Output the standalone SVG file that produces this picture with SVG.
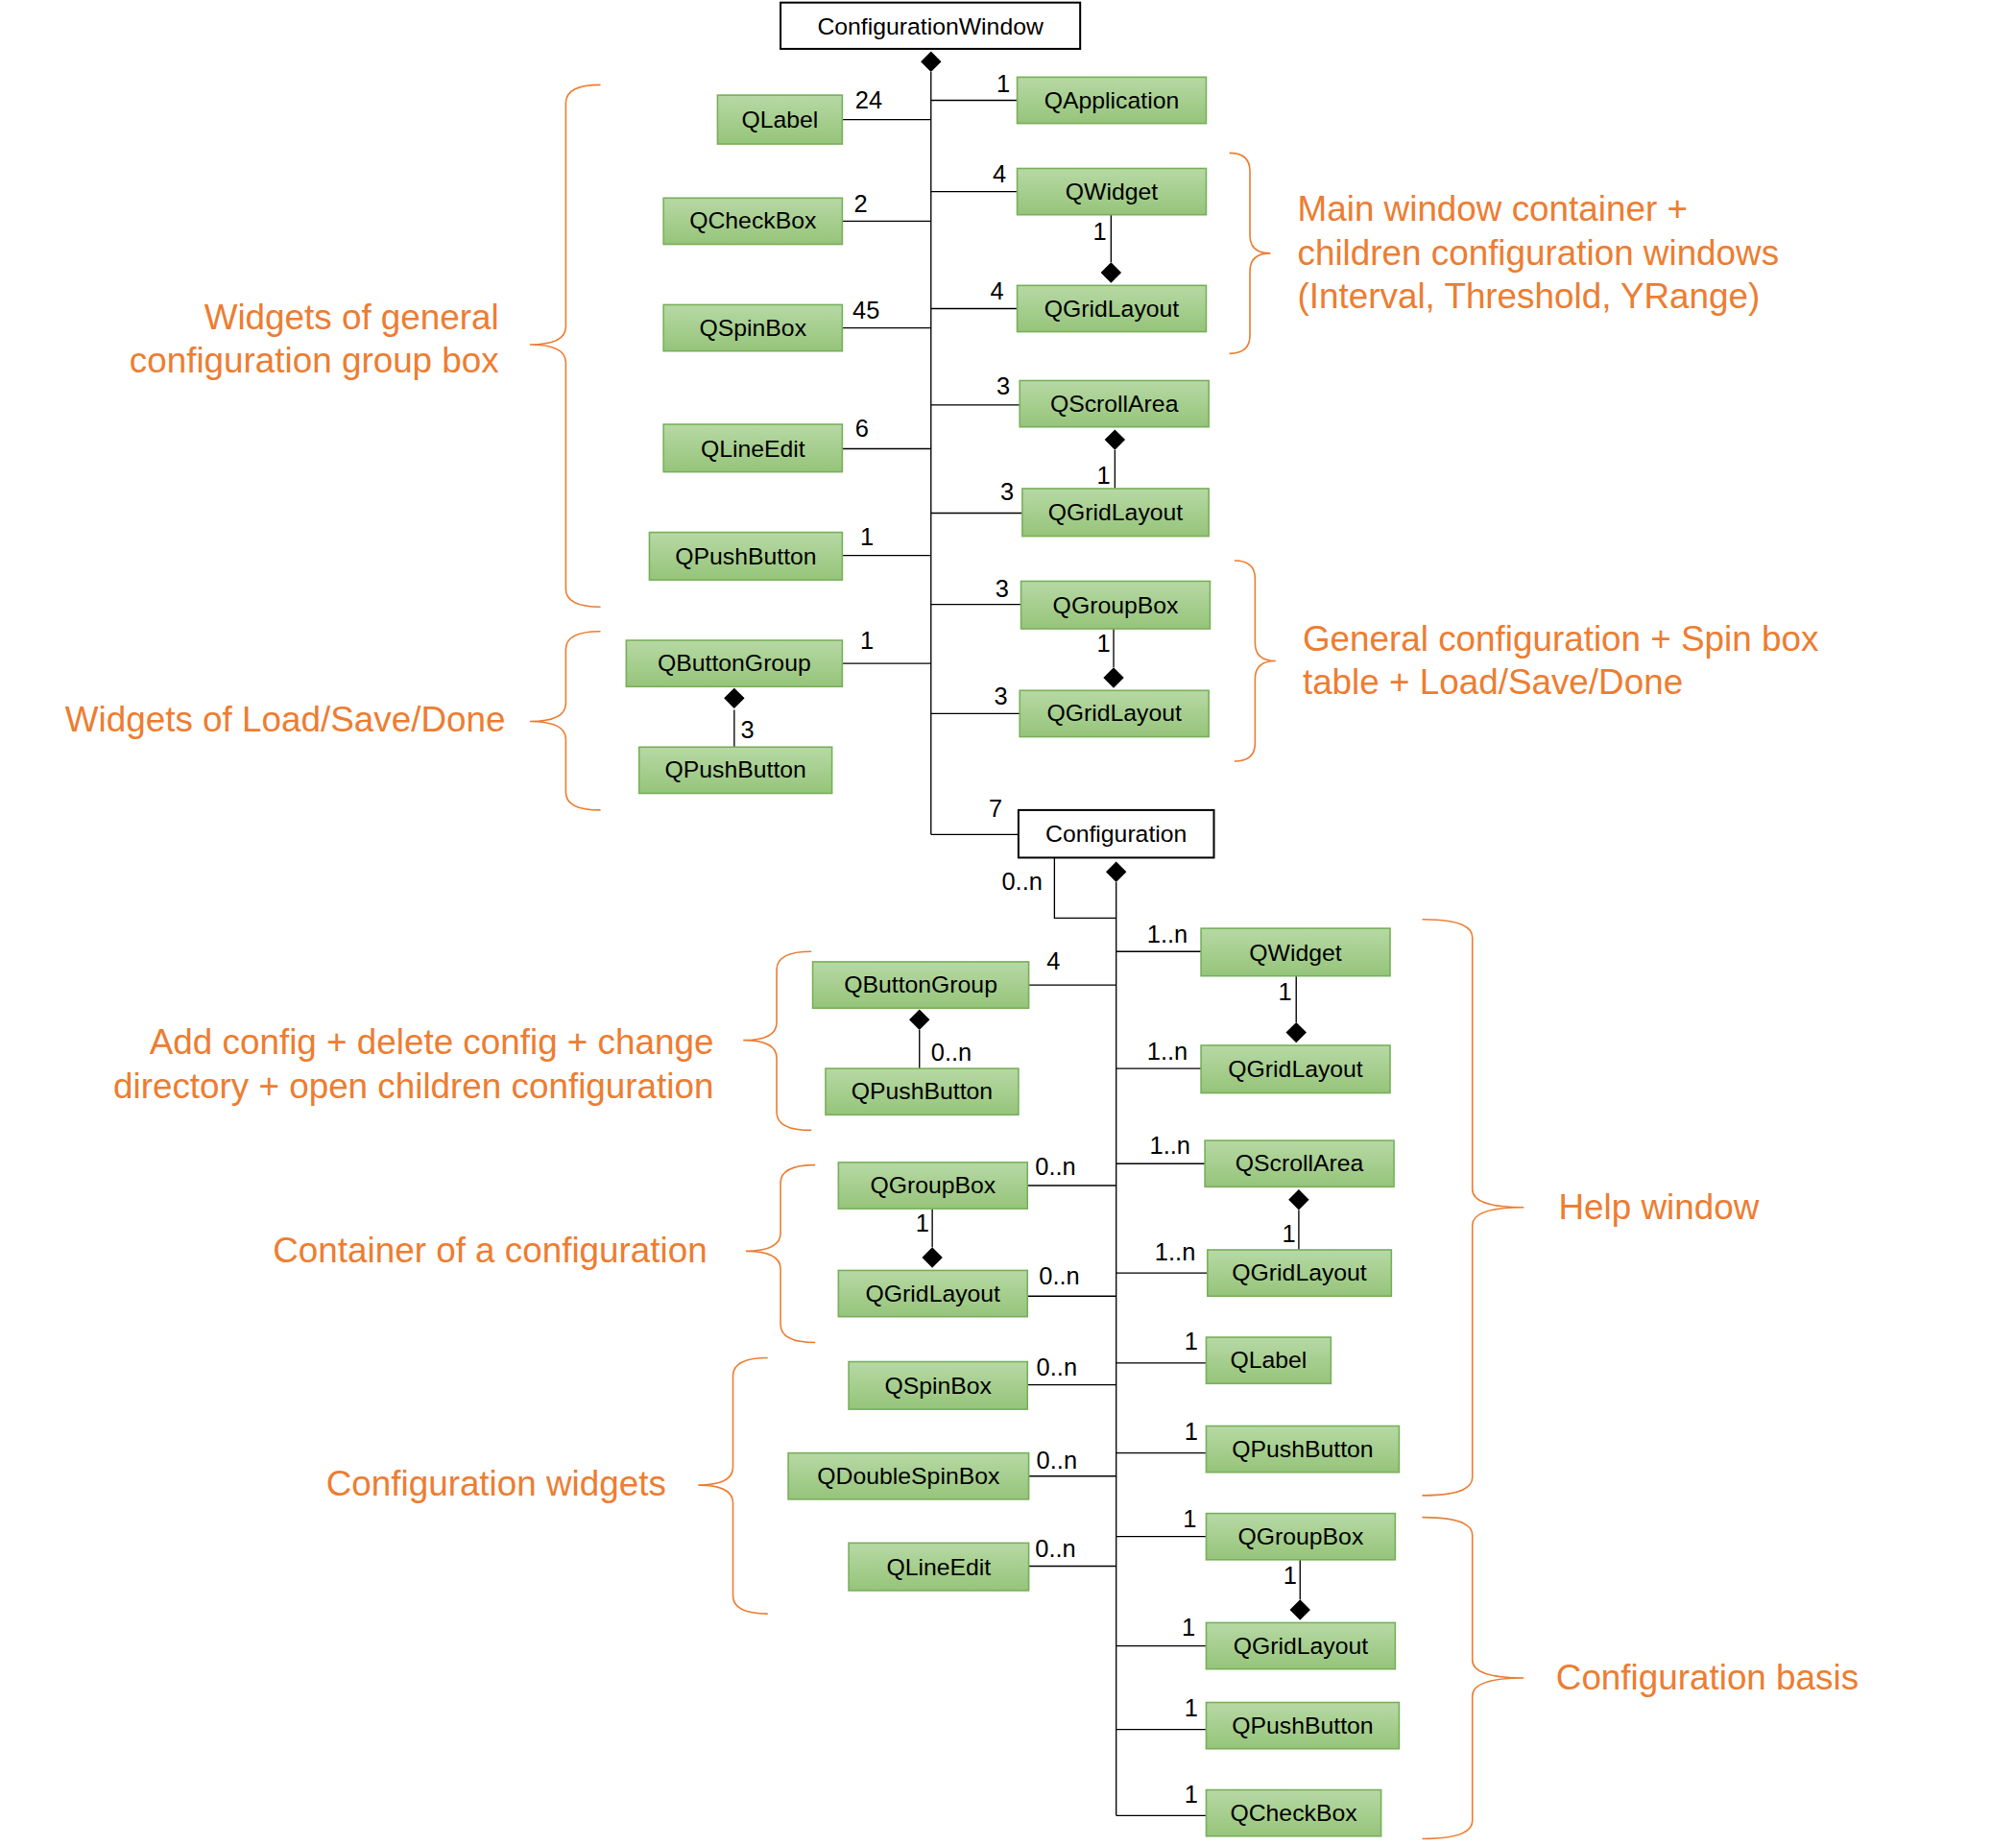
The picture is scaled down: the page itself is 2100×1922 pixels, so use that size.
<svg xmlns="http://www.w3.org/2000/svg" width="2100" height="1922" viewBox="0 0 2100 1922">
<defs>
<linearGradient id="g" x1="0" y1="0" x2="0" y2="1"><stop offset="0" stop-color="#b7d9a5"/><stop offset="1" stop-color="#96c47a"/></linearGradient>
<style>
.b rect{fill:url(#g);stroke:#78b05a;stroke-width:1.2}
.w rect{fill:#fff;stroke:#000;stroke-width:1.5}
text{font-family:"Liberation Sans",Arial,sans-serif;fill:#000}
.t{font-size:18.5px;text-anchor:middle}
.n{font-size:19px}
.o{font-size:27.5px;fill:#ed7d31}
.e{text-anchor:end}
.c line,.c path{stroke:#000;stroke-width:1;fill:none}
.c path.d{fill:#000;stroke:none}
.br{fill:none;stroke:#ed7d31;stroke-width:1.2}
</style>
</defs>
<rect width="2100" height="1922" fill="#fff"/>
<g transform="scale(1.3395)">
<g id="connectors" class="c">
<line x1="724" y1="56" x2="724" y2="649"/><line x1="724" y1="649" x2="792" y2="649"/>
<line x1="655" y1="93" x2="724" y2="93"/><line x1="655" y1="172" x2="724" y2="172"/><line x1="655" y1="255" x2="724" y2="255"/><line x1="655" y1="349" x2="724" y2="349"/><line x1="655" y1="432" x2="724" y2="432"/><line x1="655" y1="516" x2="724" y2="516"/>
<line x1="571" y1="552" x2="571" y2="581"/>
<line x1="724" y1="78" x2="791" y2="78"/><line x1="724" y1="149" x2="791" y2="149"/><line x1="724" y1="240" x2="791" y2="240"/><line x1="724" y1="315" x2="793" y2="315"/><line x1="724" y1="399" x2="795" y2="399"/><line x1="724" y1="470" x2="794" y2="470"/><line x1="724" y1="555" x2="793" y2="555"/>
<line x1="864" y1="167" x2="864" y2="204"/><line x1="867" y1="350" x2="867" y2="380"/><line x1="866" y1="489" x2="866" y2="519"/>
<line x1="868" y1="686" x2="868" y2="1412"/><path d="M820 667V714H868"/>
<line x1="868" y1="740" x2="934" y2="740"/><line x1="868" y1="831" x2="934" y2="831"/><line x1="868" y1="905" x2="937" y2="905"/><line x1="868" y1="990" x2="939" y2="990"/><line x1="868" y1="1060" x2="938" y2="1060"/><line x1="868" y1="1130" x2="938" y2="1130"/><line x1="868" y1="1195" x2="938" y2="1195"/><line x1="868" y1="1280" x2="938" y2="1280"/><line x1="868" y1="1345" x2="938" y2="1345"/><line x1="868" y1="1412" x2="938" y2="1412"/>
<line x1="1008" y1="759" x2="1008" y2="795"/><line x1="1010" y1="941" x2="1010" y2="972"/><line x1="1011" y1="1213" x2="1011" y2="1244"/>
<line x1="800" y1="766" x2="868" y2="766"/><line x1="799" y1="922" x2="868" y2="922"/><line x1="799" y1="1008" x2="868" y2="1008"/><line x1="799" y1="1077" x2="868" y2="1077"/><line x1="800" y1="1148" x2="868" y2="1148"/><line x1="800" y1="1218" x2="868" y2="1218"/>
<line x1="715" y1="801" x2="715" y2="831"/><line x1="725" y1="940" x2="725" y2="970"/>
<path class="d" d="M724 40l8 8-8 8-8-8z M571 535l8 8-8 8-8-8z M864 204l8 8-8 8-8-8z M867 334l8 8-8 8-8-8z M866 519l8 8-8 8-8-8z M868 670l8 8-8 8-8-8z M1008 795l8 8-8 8-8-8z M1010 925l8 8-8 8-8-8z M1011 1244l8 8-8 8-8-8z M715 785l8 8-8 8-8-8z M725 970l8 8-8 8-8-8z"/>
<g class="n">
<text x="665" y="84">24</text><text x="664" y="165">2</text><text x="663" y="248">45</text><text x="665" y="340">6</text><text x="669" y="424">1</text><text x="669" y="505">1</text><text x="576" y="574">3</text>
<text x="775" y="72">1</text><text x="772" y="142">4</text><text x="850" y="187">1</text><text x="770" y="233">4</text><text x="775" y="307">3</text><text x="853" y="376">1</text><text x="778" y="389">3</text><text x="774" y="464">3</text><text x="853" y="507">1</text><text x="773" y="548">3</text><text x="769" y="635">7</text><text x="779" y="692">0..n</text>
<text x="892" y="733">1..n</text><text x="994" y="778">1</text><text x="892" y="824">1..n</text><text x="894" y="897">1..n</text><text x="997" y="966">1</text><text x="898" y="980">1..n</text><text x="921" y="1050">1</text><text x="921" y="1120">1</text><text x="920" y="1188">1</text><text x="998" y="1232">1</text><text x="919" y="1272">1</text><text x="921" y="1335">1</text><text x="921" y="1402">1</text>
<text x="814" y="754">4</text><text x="724" y="825">0..n</text><text x="805" y="914">0..n</text><text x="712" y="958">1</text><text x="808" y="999">0..n</text><text x="806" y="1070">0..n</text><text x="806" y="1142">0..n</text><text x="805" y="1211">0..n</text>
</g>
</g>
<g id="ConfigurationWindow" class="w"><rect x="607" y="2" width="233" height="36"/><text class="t" x="723.5" y="27">ConfigurationWindow</text></g>
<g id="Configuration" class="w"><rect x="792" y="630" width="152" height="37"/><text class="t" x="868" y="655">Configuration</text></g>
<g id="QLabel1" class="b"><rect x="558" y="74" width="97" height="38"/><text class="t" x="606.5" y="99">QLabel</text></g>
<g id="QCheckBox1" class="b"><rect x="516" y="154" width="139" height="36"/><text class="t" x="585.5" y="178">QCheckBox</text></g>
<g id="QSpinBox1" class="b"><rect x="516" y="237" width="139" height="36"/><text class="t" x="585.5" y="261">QSpinBox</text></g>
<g id="QLineEdit1" class="b"><rect x="516" y="330" width="139" height="37"/><text class="t" x="585.5" y="355">QLineEdit</text></g>
<g id="QPushButton1" class="b"><rect x="505" y="414" width="150" height="37"/><text class="t" x="580" y="439">QPushButton</text></g>
<g id="QButtonGroup1" class="b"><rect x="487" y="498" width="168" height="36"/><text class="t" x="571" y="522">QButtonGroup</text></g>
<g id="QPushButton2" class="b"><rect x="497" y="581" width="150" height="36"/><text class="t" x="572" y="605">QPushButton</text></g>
<g id="QApplication" class="b"><rect x="791" y="60" width="147" height="36"/><text class="t" x="864.5" y="84">QApplication</text></g>
<g id="QWidget1" class="b"><rect x="791" y="131" width="147" height="36"/><text class="t" x="864.5" y="155">QWidget</text></g>
<g id="QGridLayout1" class="b"><rect x="791" y="222" width="147" height="36"/><text class="t" x="864.5" y="246">QGridLayout</text></g>
<g id="QScrollArea1" class="b"><rect x="793" y="296" width="147" height="36"/><text class="t" x="866.5" y="320">QScrollArea</text></g>
<g id="QGridLayout2" class="b"><rect x="795" y="380" width="145" height="37"/><text class="t" x="867.5" y="405">QGridLayout</text></g>
<g id="QGroupBox1" class="b"><rect x="794" y="452" width="147" height="37"/><text class="t" x="867.5" y="477">QGroupBox</text></g>
<g id="QGridLayout3" class="b"><rect x="793" y="537" width="147" height="36"/><text class="t" x="866.5" y="561">QGridLayout</text></g>
<g id="QWidget2" class="b"><rect x="934" y="722" width="147" height="37"/><text class="t" x="1007.5" y="747">QWidget</text></g>
<g id="QGridLayout4" class="b"><rect x="934" y="813" width="147" height="37"/><text class="t" x="1007.5" y="838">QGridLayout</text></g>
<g id="QScrollArea2" class="b"><rect x="937" y="887" width="147" height="36"/><text class="t" x="1010.5" y="911">QScrollArea</text></g>
<g id="QGridLayout5" class="b"><rect x="939" y="972" width="143" height="36"/><text class="t" x="1010.5" y="996">QGridLayout</text></g>
<g id="QLabel2" class="b"><rect x="938" y="1040" width="97" height="36"/><text class="t" x="986.5" y="1064">QLabel</text></g>
<g id="QPushButton3" class="b"><rect x="938" y="1109" width="150" height="36"/><text class="t" x="1013" y="1133">QPushButton</text></g>
<g id="QGroupBox2" class="b"><rect x="938" y="1177" width="147" height="36"/><text class="t" x="1011.5" y="1201">QGroupBox</text></g>
<g id="QGridLayout6" class="b"><rect x="938" y="1262" width="147" height="36"/><text class="t" x="1011.5" y="1286">QGridLayout</text></g>
<g id="QPushButton4" class="b"><rect x="938" y="1324" width="150" height="36"/><text class="t" x="1013" y="1348">QPushButton</text></g>
<g id="QCheckBox2" class="b"><rect x="938" y="1392" width="136" height="36"/><text class="t" x="1006" y="1416">QCheckBox</text></g>
<g id="QButtonGroup2" class="b"><rect x="632" y="748" width="168" height="36"/><text class="t" x="716" y="772">QButtonGroup</text></g>
<g id="QPushButton5" class="b"><rect x="642" y="831" width="150" height="36"/><text class="t" x="717" y="855">QPushButton</text></g>
<g id="QGroupBox3" class="b"><rect x="652" y="904" width="147" height="36"/><text class="t" x="725.5" y="928">QGroupBox</text></g>
<g id="QGridLayout7" class="b"><rect x="652" y="988" width="147" height="36"/><text class="t" x="725.5" y="1012">QGridLayout</text></g>
<g id="QSpinBox2" class="b"><rect x="660" y="1059" width="139" height="37"/><text class="t" x="729.5" y="1084">QSpinBox</text></g>
<g id="QDoubleSpinBox" class="b"><rect x="613" y="1130" width="187" height="36"/><text class="t" x="706.5" y="1154">QDoubleSpinBox</text></g>
<g id="QLineEdit2" class="b"><rect x="660" y="1200" width="140" height="37"/><text class="t" x="730" y="1225">QLineEdit</text></g>
<g id="annotations">
<path class="br" d="M467 66Q440 66 440 80V254Q440 268 412 268Q440 268 440 282V458Q440 472 467 472"/>
<path class="br" d="M467 491Q440 491 440 505V547Q440 561 412 561Q440 561 440 575V616Q440 630 467 630"/>
<path class="br" d="M956 119Q972 119 972 133V183Q972 197 988 197Q972 197 972 211V261Q972 275 956 275"/>
<path class="br" d="M960 436Q976 436 976 450V500Q976 514 992 514Q976 514 976 528V578Q976 592 960 592"/>
<path class="br" d="M631 740Q604 740 604 754V795Q604 809 578 809Q604 809 604 823V865Q604 879 631 879"/>
<path class="br" d="M634 906Q607 906 607 920V959Q607 973 580 973Q607 973 607 987V1030Q607 1044 634 1044"/>
<path class="br" d="M597 1056Q570 1056 570 1070V1141Q570 1155 543 1155Q570 1155 570 1169V1241Q570 1255 597 1255"/>
<path class="br" d="M1106 715Q1145 715 1145 729V925Q1145 939 1185 939Q1145 939 1145 953V1149Q1145 1163 1106 1163"/>
<path class="br" d="M1106 1180Q1145 1180 1145 1194V1291Q1145 1305 1185 1305Q1145 1305 1145 1319V1416Q1145 1430 1106 1430"/>
<text class="o e" x="388" y="256">Widgets of general</text><text class="o e" x="388" y="290">configuration group box</text>
<text class="o e" x="393" y="569">Widgets of Load/Save/Done</text>
<text class="o" x="1009" y="172">Main window container +</text><text class="o" x="1009" y="206">children configuration windows</text><text class="o" x="1009" y="240">(Interval, Threshold, YRange)</text>
<text class="o" x="1013" y="506">General configuration + Spin box</text><text class="o" x="1013" y="540">table + Load/Save/Done</text>
<text class="o e" x="555" y="820">Add config + delete config + change</text><text class="o e" x="555" y="854">directory + open children configuration</text>
<text class="o e" x="550" y="982">Container of a configuration</text>
<text class="o e" x="518" y="1163">Configuration widgets</text>
<text class="o" x="1212" y="948">Help window</text>
<text class="o" x="1210" y="1314">Configuration basis</text>
</g>
</g>
</svg>
